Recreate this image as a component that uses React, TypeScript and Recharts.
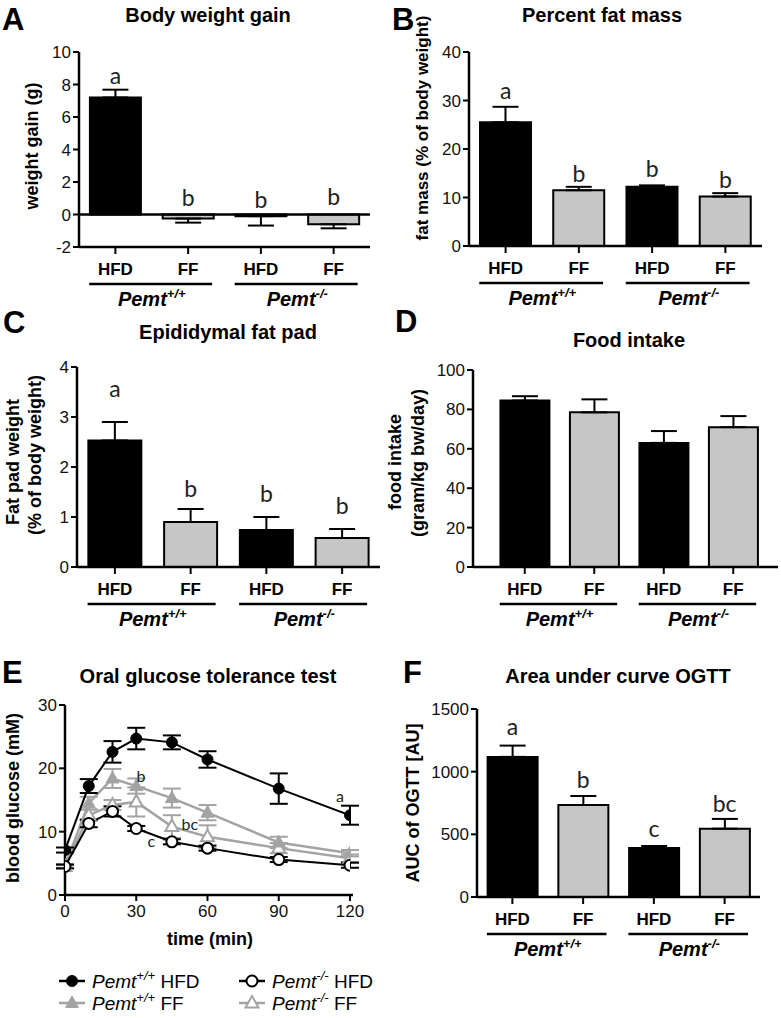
import React from 'react';
import { ComposedChart, LineChart, Bar, Line, XAxis, YAxis, ErrorBar, Cell, ReferenceLine } from 'recharts';

const FONT = '"Liberation Sans", Arial, Helvetica, sans-serif';
const LFONT = 'Lato, "Open Sans", sans-serif';
const GRAY = '#a3a3a3';
const BAR_GRAY = '#c6c6c6';

// ---- shared categories ----
const diets = ['HFD', 'FF', 'HFD', 'FF'];
const genotypeSup = ['+/+', '-/-'];
const dietFills = ['#000000', BAR_GRAY, '#000000', BAR_GRAY];

// ---- A: body weight gain ----
const gainMean = [7.2, -0.25, -0.1, -0.6];
const gainSem = [0.48, 0.25, 0.58, 0.25];
const gainLetters = ['a', 'b', 'b', 'b'];
const gainLetterAt = [8.05, 0.5, 0.4, 0.6];
const gainTicks = [-2, 0, 2, 4, 6, 8, 10];

// ---- B: percent fat mass ----
const fatMean = [25.5, 11.5, 12.2, 10.2];
const fatSem = [3.2, 0.7, 0.3, 0.7];
const fatLetters = ['a', 'b', 'b', 'b'];
const fatLetterAt = [30.3, 13.2, 14.2, 12.0];
const fatTicks = [0, 10, 20, 30, 40];

// ---- C: epididymal fat pad ----
const padMean = [2.53, 0.9, 0.74, 0.58];
const padSem = [0.37, 0.26, 0.26, 0.18];
const padLetters = ['a', 'b', 'b', 'b'];
const padLetterAt = [3.4, 1.4, 1.3, 1.06];
const padTicks = [0, 1, 2, 3, 4];

// ---- D: food intake ----
const foodMean = [84.5, 78.5, 63, 71];
const foodSem = [2.2, 6.6, 6, 5.6];
const foodTicks = [0, 20, 40, 60, 80, 100];

// ---- E: OGTT ----
const timePoints = [0, 10, 20, 30, 45, 60, 90, 120];
const wtHfdMean = [7.1, 17.2, 22.6, 24.7, 24.1, 21.4, 16.8, 12.6];
const wtHfdSem = [0.4, 1.1, 1.7, 1.7, 1.1, 1.3, 2.4, 1.5];
const wtFfMean = [4.6, 14.5, 18.4, 17.2, 15.3, 13.0, 8.3, 6.6];
const wtFfSem = [0.3, 1.0, 1.5, 1.2, 1.5, 1.2, 0.9, 0.5];
const koHfdMean = [4.5, 11.3, 13.2, 10.5, 8.4, 7.4, 5.6, 4.7];
const koHfdSem = [0.3, 0.6, 0.8, 0.4, 0.4, 0.4, 0.4, 0.4];
const koFfMean = [4.5, 12.6, 14.2, 14.7, 10.8, 9.2, 7.4, 5.8];
const koFfSem = [0.3, 0.9, 0.8, 2.3, 1.8, 1.8, 0.8, 0.6];
const eLetterText = ['b', 'bc', 'c', 'a'];
const eLetterTime = [32, 52.6, 36.3, 115.8];
const eLetterLevel = [17.8, 10.3, 7.6, 14.7];
const timeTicks = [0, 30, 60, 90, 120];
const glucoseTicks = [0, 10, 20, 30];

// ---- F: AUC ----
const aucMean = [1118, 734, 391, 545];
const aucSem = [90, 72, 16, 78];
const aucLetters = ['a', 'b', 'c', 'bc'];
const aucLetterAt = [1293, 870, 479, 678];
const aucTicks = [0, 500, 1000, 1500];

const YW = 60;
const MT = 12;
const MR = 3;
const XH = 72;

const axisLineStyle = { stroke: '#000', strokeWidth: 2.5 };
const tickLineStyle = { stroke: '#000', strokeWidth: 2 };
const yTickStyle = { fill: '#111', fontSize: 17, fontFamily: FONT };

type BarPanelProps = {
  x0: number; y0: number; plotW: number; plotH: number;
  mean: number[]; sem: number[]; letters?: string[]; letterAt?: number[];
  domain: [number, number]; ticks: number[];
  padL?: number; padR?: number; zeroLine?: boolean;
};

function BarPanel(p: BarPanelProps) {
  const padL = p.padL ?? 0;
  const padR = p.padR ?? 0;
  const band = (p.plotW - padL - padR) / diets.length;
  const data = diets.map((d, i) => ({
    id: i,
    diet: d,
    mean: p.mean[i],
    err: p.mean[i] >= 0 ? [0, p.sem[i]] : [p.sem[i], 0],
    letter: p.letters ? p.letters[i] : '',
    letterAt: p.letterAt ? p.letterAt[i] : null,
  }));
  const W = YW + p.plotW + MR;
  const H = MT + p.plotH + XH;
  const tick = (t: any) => {
    const i = Number(t.payload.value);
    const axisY = t.y - 9;
    const cx = t.x;
    return (
      <g>
        <text x={cx} y={axisY + 28} textAnchor="middle" fontFamily={FONT} fontWeight="bold" fontSize={17} fill="#000">{diets[i]}</text>
        {i % 2 === 0 && (
          <g>
            <line x1={cx - 0.36 * band} x2={cx + 1.33 * band} y1={axisY + 37} y2={axisY + 37} stroke="#000" strokeWidth={2.5} />
            <text x={cx + band / 2} y={axisY + 59} textAnchor="middle" fontFamily={FONT} fontWeight="bold" fontStyle="italic" fontSize={20} fill="#000">
              Pemt<tspan fontSize={13} dy={-8}>{genotypeSup[i / 2]}</tspan>
            </text>
          </g>
        )}
      </g>
    );
  };
  const renderLetter = (d: any) => (
    <text key={`l${d.index}`} x={d.cx} y={d.cy} textAnchor="middle" fontFamily={LFONT} fontSize={23} fill="#222">
      {d.payload.letter}
    </text>
  );
  return (
    <div style={{ position: 'absolute', left: p.x0 - YW, top: p.y0 - MT, width: W, height: H }}>
      <ComposedChart width={W} height={H} data={data} margin={{ top: MT, right: MR, bottom: 0, left: 0 }} barCategoryGap="15%">
        <XAxis dataKey="id" type="category" height={XH} padding={{ left: padL, right: padR }}
          axisLine={axisLineStyle} tickLine={tickLineStyle} tickSize={7} tickMargin={2} tick={tick} interval={0} />
        <YAxis type="number" domain={p.domain} ticks={p.ticks} width={YW} interval={0}
          axisLine={axisLineStyle} tickLine={tickLineStyle} tickSize={6} tickMargin={2} tick={yTickStyle} />
        {p.zeroLine && <ReferenceLine y={0} stroke="#000" strokeWidth={2.5} />}
        <Bar dataKey="mean" stroke="#000" strokeWidth={2} isAnimationActive={false}>
          {data.map((d, i) => <Cell key={i} fill={dietFills[i]} />)}
          <ErrorBar dataKey="err" width={13} strokeWidth={2} stroke="#000" direction="y" />
        </Bar>
        {p.letters && (
          <Line dataKey="letterAt" stroke="none" isAnimationActive={false} dot={renderLetter} activeDot={false} legendType="none" />
        )}
      </ComposedChart>
    </div>
  );
}

function Marker({ kind, cx, cy }: { kind: string; cx: number; cy: number }) {
  if (kind === 'wtHfd') return <circle cx={cx} cy={cy} r={5.5} fill="#000" stroke="#000" strokeWidth={1} />;
  if (kind === 'koHfd') return <circle cx={cx} cy={cy} r={5.5} fill="#fff" stroke="#000" strokeWidth={2} />;
  const pts = `${cx},${cy - 7} ${cx - 6.5},${cy + 4.5} ${cx + 6.5},${cy + 4.5}`;
  if (kind === 'wtFf') return <polygon points={pts} fill={GRAY} stroke={GRAY} strokeWidth={1} />;
  return <polygon points={pts} fill="#fff" stroke={GRAY} strokeWidth={2} />;
}

function OgttPanel() {
  const x0 = 65, y0 = 705, plotW = 288, plotH = 190, mr = 24;
  const W = YW + plotW + mr;
  const H = MT + plotH + 40;
  const data = timePoints.map((t, i) => ({
    t,
    wtHfd: wtHfdMean[i], wtHfdErr: wtHfdSem[i],
    wtFf: wtFfMean[i], wtFfErr: wtFfSem[i],
    koHfd: koHfdMean[i], koHfdErr: koHfdSem[i],
    koFf: koFfMean[i], koFfErr: koFfSem[i],
  }));
  const letterData = eLetterText.map((s, i) => ({ t: eLetterTime[i], y: eLetterLevel[i], letter: s }));
  const series = [
    { key: 'koFf', color: GRAY, width: 2.5 },
    { key: 'wtFf', color: GRAY, width: 2.5 },
    { key: 'koHfd', color: '#000', width: 2 },
    { key: 'wtHfd', color: '#000', width: 2 },
  ];
  return (
    <div style={{ position: 'absolute', left: x0 - YW, top: y0 - MT, width: W, height: H }}>
      <LineChart width={W} height={H} data={data} margin={{ top: MT, right: mr, bottom: 0, left: 0 }}>
        <XAxis dataKey="t" type="number" domain={[0, 120]} ticks={timeTicks} interval={0} height={40}
          padding={{ left: 0, right: 3 }} allowDataOverflow
          axisLine={axisLineStyle} tickLine={tickLineStyle} tickSize={6} tickMargin={4}
          tick={{ fill: '#111', fontSize: 17, fontFamily: FONT }} />
        <YAxis type="number" domain={[0, 30]} ticks={glucoseTicks} width={YW} interval={0}
          axisLine={axisLineStyle} tickLine={tickLineStyle} tickSize={6} tickMargin={2} tick={yTickStyle} />
        {series.map((s) => (
          <Line key={s.key} dataKey={s.key} stroke={s.color} strokeWidth={s.width} isAnimationActive={false}
            activeDot={false}
            dot={(d: any) => <Marker key={`${s.key}${d.index}`} kind={s.key} cx={d.cx} cy={d.cy} />}>
            <ErrorBar dataKey={`${s.key}Err`} width={9} strokeWidth={2} stroke={s.color} direction="y" />
          </Line>
        ))}
        <Line data={letterData} dataKey="y" stroke="none" isAnimationActive={false} activeDot={false}
          dot={(d: any) => (
            <text key={`el${d.index}`} x={d.cx} y={d.cy} textAnchor="middle" fontFamily={LFONT} fontSize={16} fill="#222">
              {d.payload.letter}
            </text>
          )} />
      </LineChart>
    </div>
  );
}

function RotText({ x, y, text, size = 18 }: { x: number; y: number; text: string; size?: number }) {
  return (
    <text x={x} y={y} transform={`rotate(-90 ${x} ${y})`} textAnchor="middle" fontFamily={FONT} fontWeight="bold" fontSize={size} fill="#000">
      {text}
    </text>
  );
}

const titles = [
  { text: 'Body weight gain', x: 208, y: 22 },
  { text: 'Percent fat mass', x: 602, y: 22 },
  { text: 'Epididymal fat pad', x: 228, y: 339 },
  { text: 'Food intake', x: 629, y: 347 },
  { text: 'Oral glucose tolerance test', x: 208, y: 683 },
  { text: 'Area under curve OGTT', x: 618, y: 683 },
];
const panelLetters = [
  { text: 'A', x: 2, y: 30 },
  { text: 'B', x: 392, y: 30 },
  { text: 'C', x: 3, y: 333 },
  { text: 'D', x: 395, y: 332 },
  { text: 'E', x: 2, y: 683 },
  { text: 'F', x: 403, y: 683 },
];
const legendItems = [
  { kind: 'wtHfd', sup: '+/+', diet: 'HFD', color: '#000', lx: 59, row: 0 },
  { kind: 'koHfd', sup: '-/-', diet: 'HFD', color: '#000', lx: 239, row: 0 },
  { kind: 'wtFf', sup: '+/+', diet: 'FF', color: GRAY, lx: 59, row: 1 },
  { kind: 'koFf', sup: '-/-', diet: 'FF', color: GRAY, lx: 239, row: 1 },
];

function Overlay() {
  return (
    <svg width={781} height={1018} style={{ position: 'absolute', left: 0, top: 0, pointerEvents: 'none' }}>
      {titles.map((t) => (
        <text key={t.text} x={t.x} y={t.y} textAnchor="middle" fontFamily={FONT} fontWeight="bold" fontSize={20} fill="#000">{t.text}</text>
      ))}
      {panelLetters.map((t) => (
        <text key={t.text} x={t.x} y={t.y} fontFamily={FONT} fontWeight="bold" fontSize={31} fill="#000">{t.text}</text>
      ))}
      <RotText x={38} y={146} text="weight gain (g)" />
      <RotText x={428} y={128} text="fat mass (% of body weight)" size={17} />
      <RotText x={19} y={462} text="Fat pad weight" />
      <RotText x={41} y={455} text="(% of body weight)" />
      <RotText x={401} y={462} text="food intake" />
      <RotText x={424} y={463} text="(gram/kg bw/day)" />
      <RotText x={19} y={798} text="blood glucose (mM)" />
      <RotText x={419} y={803} text="AUC of OGTT [AU]" />
      <text x={210} y={945} textAnchor="middle" fontFamily={FONT} fontWeight="bold" fontSize={18} fill="#000">time (min)</text>
      {legendItems.map((it) => {
        const cy = it.row === 0 ? 981 : 1003;
        const base = it.row === 0 ? 988 : 1010;
        return (
          <g key={it.kind}>
            <line x1={it.lx} x2={it.lx + 26} y1={cy} y2={cy} stroke={it.color} strokeWidth={2.5} />
            <Marker kind={it.kind} cx={it.lx + 13} cy={cy} />
            <text x={it.lx + 33} y={base} fontFamily={FONT} fontSize={19} fill="#000">
              <tspan fontStyle="italic">Pemt</tspan>
              <tspan fontStyle="italic" fontSize={13} dy={-8}>{it.sup}</tspan>
              <tspan dy={8}>{'\u00a0' + it.diet}</tspan>
            </text>
          </g>
        );
      })}
    </svg>
  );
}

export default function App() {
  return (
    <div style={{ position: 'absolute', left: 0, top: 0, width: 781, height: 1018, overflow: 'hidden', background: '#fff', fontFamily: FONT }}>
      <BarPanel x0={79} y0={52} plotW={291} plotH={195} mean={gainMean} sem={gainSem}
        letters={gainLetters} letterAt={gainLetterAt} domain={[-2, 10]} ticks={gainTicks} zeroLine />
      <BarPanel x0={469} y0={52} plotW={293} plotH={194} mean={fatMean} sem={fatSem}
        letters={fatLetters} letterAt={fatLetterAt} domain={[0, 40]} ticks={fatTicks} />
      <BarPanel x0={77} y0={367} plotW={303} plotH={200} mean={padMean} sem={padSem}
        letters={padLetters} letterAt={padLetterAt} domain={[0, 4]} ticks={padTicks} />
      <BarPanel x0={473} y0={370} plotW={305} plotH={197} mean={foodMean} sem={foodSem}
        domain={[0, 100]} ticks={foodTicks} padL={17} padR={10} />
      <OgttPanel />
      <BarPanel x0={477} y0={709} plotW={283} plotH={188} mean={aucMean} sem={aucSem}
        letters={aucLetters} letterAt={aucLetterAt} domain={[0, 1500]} ticks={aucTicks} />
      <Overlay />
    </div>
  );
}
